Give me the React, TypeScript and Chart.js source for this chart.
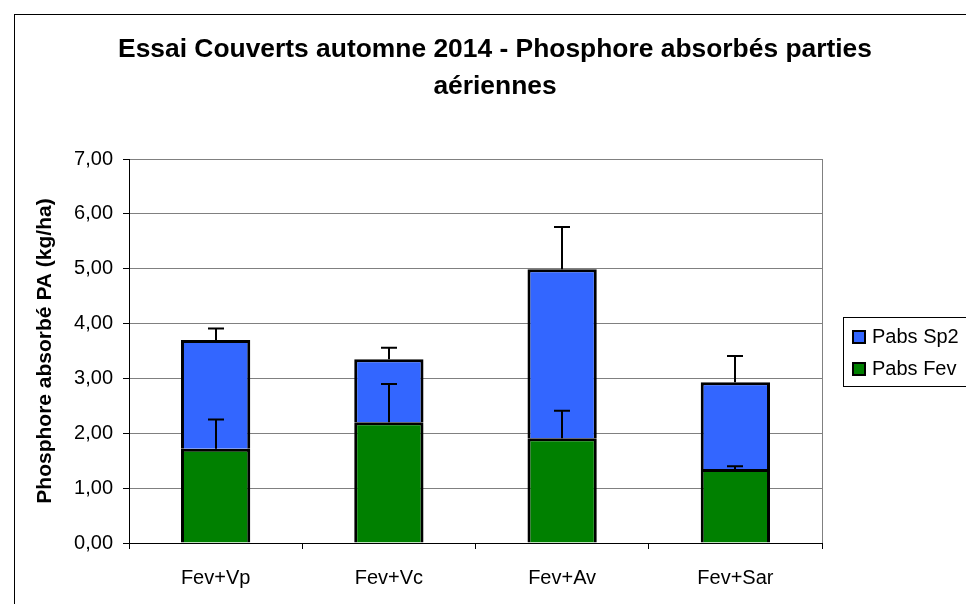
import React, { useEffect, useRef } from "react";
import { Chart, registerables } from "chart.js";

Chart.register(...registerables);

const categories = ["Fev+Vp", "Fev+Vc", "Fev+Av", "Fev+Sar"];
const pabsFev = [1.72, 2.2, 1.91, 1.35];
const pabsSp2 = [1.98, 1.15, 3.08, 1.58];
const errFev = [0.53, 0.7, 0.5, 0.05];
const errSp2 = [0.21, 0.21, 0.77, 0.48];
const yTickLabels = ["0,00", "1,00", "2,00", "3,00", "4,00", "5,00", "6,00", "7,00"];
const seriesNames = ["Pabs Fev", "Pabs Sp2"];
const titleLines = ["Essai Couverts automne 2014 - Phosphore absorbés parties", "aériennes"];
const yAxisTitle = "Phosphore absorbé PA (kg/ha)";

const GREEN = "#008000";
const BLUE = "#3366FF";
const FONT = "'Liberation Sans', Arial, sans-serif";

const titlePlugin = {
  id: "customTitle",
  afterDraw(chart: any) {
    const { ctx } = chart;
    ctx.save();
    ctx.font = `bold 26.4px ${FONT}`;
    ctx.fillStyle = "#000";
    ctx.textAlign = "center";
    ctx.textBaseline = "middle";
    titleLines.forEach((line, i) => {
      ctx.fillText(line, 480, 34.5 + i * 37);
    });
    ctx.restore();
  },
};

const frameRightPlugin = {
  id: "frameRight",
  beforeDatasetsDraw(chart: any) {
    const { ctx, chartArea } = chart;
    ctx.save();
    ctx.strokeStyle = "#808080";
    ctx.lineWidth = 1;
    ctx.beginPath();
    const x = Math.round(chartArea.right) + 0.5;
    ctx.moveTo(x, chartArea.top);
    ctx.lineTo(x, chartArea.bottom);
    ctx.stroke();
    ctx.restore();
  },
};

const errorBarPlugin = {
  id: "errorBars",
  afterDatasetsDraw(chart: any) {
    const { ctx } = chart;
    const yScale = chart.scales.y;
    const errs = [errFev, errSp2];
    ctx.save();
    ctx.strokeStyle = "#000";
    ctx.lineWidth = 2;
    ctx.lineCap = "butt";
    for (let di = 0; di < 2; di++) {
      const meta = chart.getDatasetMeta(di);
      meta.data.forEach((el: any, i: number) => {
        const top = di === 0 ? pabsFev[i] : pabsFev[i] + pabsSp2[i];
        const y0 = yScale.getPixelForValue(top);
        const y1 = yScale.getPixelForValue(top + errs[di][i]);
        const x = Math.round(el.x);
        ctx.beginPath();
        ctx.moveTo(x, y0);
        ctx.lineTo(x, y1);
        ctx.moveTo(x - 8, y1);
        ctx.lineTo(x + 8, y1);
        ctx.stroke();
      });
    }
    ctx.restore();
  },
};

const legendPlugin = {
  id: "customLegend",
  afterDraw(chart: any) {
    const { ctx } = chart;
    ctx.save();
    ctx.strokeStyle = "#000";
    ctx.lineWidth = 1;
    ctx.strokeRect(828.5, 302.5, 160, 69);
    const items = [
      { label: seriesNames[1], color: BLUE, y: 315 },
      { label: seriesNames[0], color: GREEN, y: 347 },
    ];
    ctx.font = `20px ${FONT}`;
    ctx.textBaseline = "middle";
    ctx.textAlign = "left";
    items.forEach((it) => {
      ctx.fillStyle = it.color;
      ctx.fillRect(838, it.y + 1, 12, 12);
      ctx.lineWidth = 2;
      ctx.strokeStyle = "#000";
      ctx.strokeRect(838, it.y + 1, 12, 12);
      ctx.fillStyle = "#000";
      ctx.fillText(it.label, 857, it.y + 7);
    });
    ctx.restore();
  },
};

export default function App() {
  const ref = useRef<HTMLCanvasElement | null>(null);
  useEffect(() => {
    if (!ref.current) return;
    Chart.defaults.font.family = FONT;
    Chart.defaults.color = "#000";
    const chart = new Chart(ref.current, {
      type: "bar",
      data: {
        labels: categories,
        datasets: [
          {
            label: seriesNames[0],
            data: pabsFev,
            backgroundColor: GREEN,
            borderColor: "#000",
            borderWidth: 3,
            inflateAmount: 0,
            barPercentage: 0.4,
            categoryPercentage: 1,
          },
          {
            label: seriesNames[1],
            data: pabsSp2,
            backgroundColor: BLUE,
            borderColor: "#000",
            borderWidth: 3,
            inflateAmount: 0,
            barPercentage: 0.4,
            categoryPercentage: 1,
          },
        ],
      },
      options: {
        responsive: false,
        animation: false,
        layout: { padding: { left: 0, right: 153, top: 144, bottom: 0 } },
        plugins: {
          legend: { display: false },
          tooltip: { enabled: false },
          title: { display: false },
        },
        scales: {
          x: {
            stacked: true,
            grid: {
              display: true,
              drawOnChartArea: false,
              drawTicks: true,
              tickLength: 6,
              tickColor: "#000",
              offset: true,
            },
            border: { display: true, color: "#000", width: 1 },
            ticks: {
              font: { size: 20, family: FONT },
              color: "#000",
              padding: 17,
              maxRotation: 0,
              autoSkip: false,
            },
            afterFit(scale: any) {
              scale.height = 61;
            },
          },
          y: {
            stacked: true,
            min: 0,
            max: 7,
            grid: {
              color: (c: any) => (c.tick && c.tick.value === 0 ? "#000" : "#808080"),
              tickLength: 6,
              tickColor: "#000",
            },
            border: { display: true, color: "#000", width: 1 },
            ticks: {
              stepSize: 1,
              font: { size: 20, family: FONT },
              color: "#000",
              padding: 10,
              callback: (v: any) => yTickLabels[Math.round(Number(v))],
            },
            title: {
              display: true,
              text: yAxisTitle,
              color: "#000",
              font: { size: 21, weight: "bold", family: FONT },
              padding: { top: 18, bottom: 0 },
            },
            afterFit(scale: any) {
              scale.width = 114;
            },
          },
        },
      },
      plugins: [titlePlugin, frameRightPlugin, errorBarPlugin, legendPlugin],
    } as any);
    return () => chart.destroy();
  }, []);

  return (
    <div
      style={{
        position: "fixed",
        left: 0,
        top: 0,
        width: 966,
        height: 604,
        overflow: "hidden",
        background: "#fff",
      }}
    >
      <div
        style={{
          position: "absolute",
          left: 14,
          top: 14,
          width: 1000,
          height: 700,
          borderLeft: "1px solid #000",
          borderTop: "1px solid #000",
        }}
      />
      <canvas
        ref={ref}
        width={960}
        height={589}
        style={{ position: "absolute", left: 15, top: 15, width: 960, height: 589, display: "block" }}
      />
    </div>
  );
}
